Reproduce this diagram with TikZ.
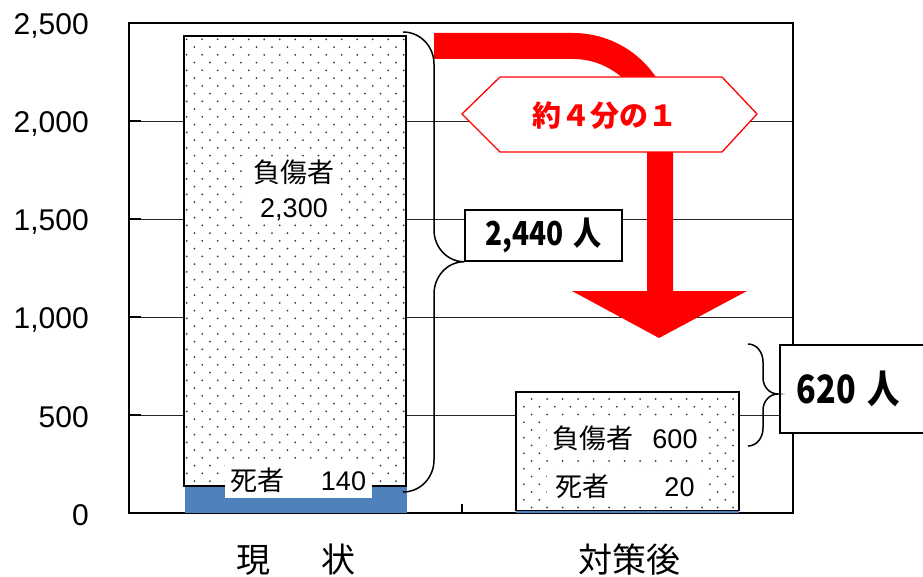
\documentclass[tikz,border=0pt]{standalone}
\usepackage{fontspec}
\setmainfont{Liberation Sans}
\newfontfamily\jp{Noto Sans CJK JP}
\definecolor{barblue}{HTML}{4F81BD}
\definecolor{dotc}{HTML}{3A3A3A}
\definecolor{arrred}{HTML}{FF0000}
\begin{document}
\begin{tikzpicture}[x=1pt,y=1pt,
  ticklab/.style={anchor=east,inner sep=0pt,font=\fontsize{30}{30}\selectfont},
  grid/.style={line width=0.9pt,black!85},
  frame/.style={line width=1.6pt},
  barborder/.style={line width=1.8pt},
  wbox/.style={fill=white,inner sep=0pt,font=\fontsize{27}{35}\selectfont},
  totalbox/.style={draw,line width=1.5pt,fill=white,inner sep=0pt},
  brace/.style={line width=1.5pt},
  catlab/.style={inner sep=0pt,font=\jp\fontsize{34}{34}\selectfont}]
\useasboundingbox (0,0) rectangle (923,-577);
\fill[white] (0,0) rectangle (923,-577);

% gridlines
\foreach \yy in {121,219,317,415} {
  \draw[grid] (129,-\yy) -- (793,-\yy);
  \draw[line width=1.2pt] (129,-\yy) -- (141,-\yy);
}
% frame
\draw[frame] (129,-23) rectangle (793,-513);
\draw[line width=2.3pt] (129,-23) -- (793,-23);
\draw[line width=1.2pt] (462,-513) -- (462,-504);

% tick labels
\node[ticklab] (t2500) at (89,-25.5) {2,500};
\node[ticklab] (t2000) at (89,-123.5) {2,000};
\node[ticklab] (t1500) at (89,-221.5) {1,500};
\node[ticklab] (t1000) at (89,-319.5) {1,000};
\node[ticklab] (t500) at (89,-417.5) {500};
\node[ticklab] (t0) at (89,-515.5) {0};

% bar 1
\fill[barblue] (185,-486) rectangle (407,-513);
\fill[white] (184,-36) rectangle (406,-486);
\begin{scope}
\clip (184,-36) rectangle (406,-486);
\foreach \i in {0,...,57} {
  \pgfmathsetmacro\yy{39.3+7.75*\i}
  \pgfmathsetmacro\xo{186.7+7.75*mod(\i,2)}
  \foreach \j in {0,...,14} \fill[dotc] (\xo+15.5*\j,-\yy) circle (1pt);
}
\end{scope}
\draw[barborder] (184,-486) -- (184,-36) -- (406,-36) -- (406,-486) -- cycle;

% bar 2
\fill[barblue] (516,-509) rectangle (739,-513);
\fill[white] (516,-392) rectangle (739,-510.5);
\begin{scope}
\clip (516,-392) rectangle (739,-510.5);
\foreach \i in {0,...,15} {
  \pgfmathsetmacro\yy{399+7.75*\i}
  \pgfmathsetmacro\xo{516+7.75*mod(\i,2)}
  \foreach \j in {0,...,15} \fill[dotc] (\xo+15.5*\j,-\yy) circle (1pt);
}
\end{scope}
\draw[barborder] (516,-392) rectangle (739,-510.5);

% labels inside bars
\node[wbox,align=center,minimum width=93,minimum height=65] (inj1) at (294,-190) {{\jp 負傷者}\\2,300};
\node[wbox,minimum width=147,minimum height=35] (dead1) at (298.5,-480.5) {{\jp 死者}\hspace{36pt}140};
\node[wbox,minimum width=156,minimum height=40] (inj2) at (625,-438) {{\jp 負傷者}\hspace{19pt}600};
\node[wbox,minimum width=156,minimum height=37] (dead2) at (625,-486.5) {{\jp 死者}\hspace{55pt}20};

% red arrow
\fill[arrred] (434,-33) -- (573,-33) arc[start angle=90,end angle=0,radius=100]
  -- (673,-291) -- (747,-291) -- (659,-338) -- (572,-291) -- (647,-291)
  -- (647,-133) arc[start angle=0,end angle=90,radius=74] -- (434,-59) -- cycle;

% hexagon label
\draw[arrred,line width=1.3pt,fill=white] (462,-114) -- (500,-77) -- (722,-77) -- (757,-114) -- (722,-152) -- (500,-152) -- cycle;
\node[inner sep=0pt,text=arrred,font=\jp\bfseries\fontsize{29}{29}\selectfont] (ratio) at (605,-116) {約４分の１};

% total boxes
\node[totalbox,minimum width=157,minimum height=51] (b1) at (543.5,-235.5)
  {\scalebox{0.85}[1]{\jp\bfseries\fontsize{33}{33}\selectfont 2,440\hspace{12pt}人}};
\node[totalbox,minimum width=151,minimum height=88,anchor=west,text width=117,align=left] (b2) at (779,-389)
  {\scalebox{0.83}[1]{\jp\bfseries\fontsize{39}{39}\selectfont 620\hspace{14pt}人}};

% braces
\draw[brace] (403,-32) to[out=0,in=90] (434,-64) -- (434,-230)
  to[out=-90,in=180] (b1.south west) to[out=180,in=90] (434,-294)
  -- (434,-460) to[out=-90,in=0] (403,-492);
\coordinate (b2tip) at ([xshift=-1pt,yshift=-5pt]b2.west);
\draw[brace] (748,-344) to[out=0,in=90] (763,-362) -- (763,-378)
  to[out=-90,in=180] (b2tip) to[out=180,in=90] (763,-410)
  -- (763,-428) to[out=-90,in=0] (748,-446);

% category labels
\node[catlab] (cat1) at (296,-560) {現\hspace{52pt}状};
\node[catlab] (cat2) at (629,-560) {対策後};
\end{tikzpicture}
\end{document}
